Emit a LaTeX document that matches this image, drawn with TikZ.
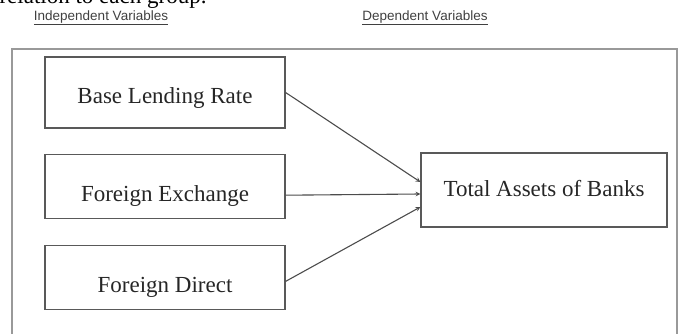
\documentclass[tikz,border=0pt]{standalone}
\usepackage{fontspec}
\setmainfont{Liberation Serif}
\setsansfont{Liberation Sans}
\usetikzlibrary{positioning,arrows}
\tikzstyle{var}=[draw=black!65, rectangle, line width=1.2pt, minimum width=240pt, inner sep=0pt, text height=47pt, text depth=17pt, font=\fontsize{23}{26}\selectfont, text=black!85]
\tikzstyle{head}=[font=\sffamily\fontsize{13.5}{15}\selectfont, text=black!75, inner sep=0pt]

\begin{document}
\begin{tikzpicture}[x=1pt, y=1pt, line width=1.1pt]
	\useasboundingbox (0,0) rectangle (681,-334);
	\clip (0,0) rectangle (681,-334);

	% cut-off line of the page text above the figure
	\node[anchor=base west, inner sep=0pt, font=\fontsize{23}{26}\selectfont] (top) at (-1,-4) {relation to each group.};

	\node[head] (IV) at (101,-18) {\underline{Independent Variables}};
	\node[head] (DV) at (425,-18) {\underline{Dependent Variables}};

	\draw[black!40, line width=2.4pt] (12,-49) rectangle (677,-360);

	\node[var, text depth=24pt] (BLR) at (165,-92.5) {Base Lending Rate};
	\node[var] (FE) [below = 25pt of BLR] {Foreign Exchange};
	\node[var] (FD) [below = 26pt of FE] {Foreign Direct};
	\node[var, minimum width=246pt, text height=44pt, text depth=30pt] (TAB) at (544,-190) {Total Assets of Banks};

	\draw (BLR.east) edge[->, >=stealth, black!70] ([yshift=8pt]TAB.west);
	\draw ([yshift=-9pt]FE.east) edge[->, >=stealth, black!70] ([yshift=-4pt]TAB.west);
	\draw ([yshift=-4pt]FD.east) edge[->, >=stealth, black!70] ([yshift=-17pt]TAB.west);
\end{tikzpicture}
\end{document}
